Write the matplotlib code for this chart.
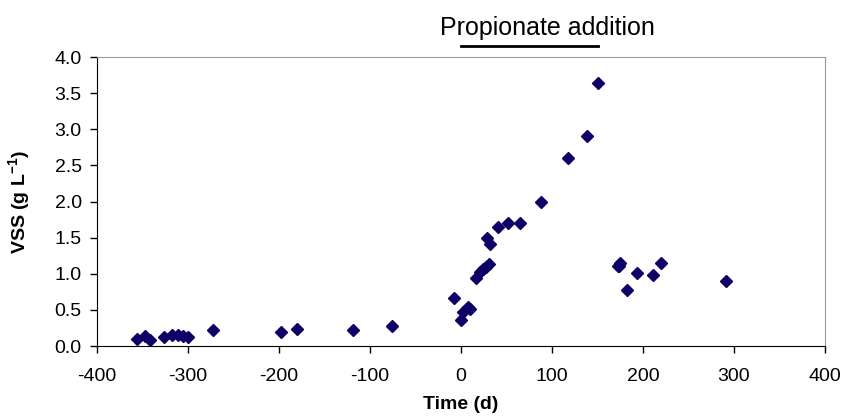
import matplotlib.pyplot as plt

plt.rcParams['font.family'] = ['Liberation Sans', 'DejaVu Sans']
plt.rcParams['mathtext.default'] = 'regular'
plt.rcParams['axes.unicode_minus'] = False

# Datos
tiempo = [-356, -347, -342, -326, -318, -311, -305, -300, -272, -198, -180,
          -119, -76, -8, 0, 2, 8, 10, 16, 21, 24, 28, 31, 29, 32, 41, 52, 65,
          88, 118, 139, 151, 173, 175, 174, 182, 193, 211, 220, 291]
vss = [0.10, 0.14, 0.08, 0.12, 0.15, 0.15, 0.14, 0.12, 0.22, 0.20, 0.23,
       0.22, 0.28, 0.67, 0.36, 0.47, 0.54, 0.51, 0.94, 1.03, 1.07, 1.10, 1.13,
       1.49, 1.41, 1.65, 1.71, 1.71, 1.99, 2.61, 2.91, 3.64, 1.11, 1.15, 1.11,
       0.78, 1.01, 0.99, 1.15, 0.90]

# Periodo de adición de propionato
adicion = [0, 150]

fig = plt.figure(figsize=(8.41, 4.17), dpi=100)
ax = fig.add_axes([0.1153, 0.170, 0.8657, 0.693])

ax.plot(tiempo, vss, linestyle='none', marker='D', markersize=5.8,
        color='#0d0066')

ax.set_xlim(-400, 400)
ax.set_ylim(0, 4.0)
ax.set_xticks(range(-400, 401, 100))
ax.set_yticks([i * 0.5 for i in range(9)])
ax.yaxis.set_major_formatter(plt.FormatStrFormatter('%.1f'))
ax.tick_params(labelsize=14, direction='out', length=5, width=1)
ax.tick_params(axis='x', pad=11)
ax.tick_params(axis='y', pad=6)

for lado in ['top', 'right']:
    ax.spines[lado].set_color('#999999')
for lado in ['left', 'bottom']:
    ax.spines[lado].set_color('black')

ax.set_xlabel('Time (d)', fontsize=14, fontweight='bold', labelpad=8)
ax.set_ylabel('VSS (g L$^{-1}$)', fontsize=14, fontweight='bold', labelpad=16)

# Línea y texto de la adición de propionato
ax.plot(adicion, [4.15, 4.15], color='black', linewidth=2, clip_on=False)
ax.text(95, 4.24, 'Propionate addition', fontsize=18,
        ha='center', va='bottom')

fig.savefig('out.png', dpi=100)
